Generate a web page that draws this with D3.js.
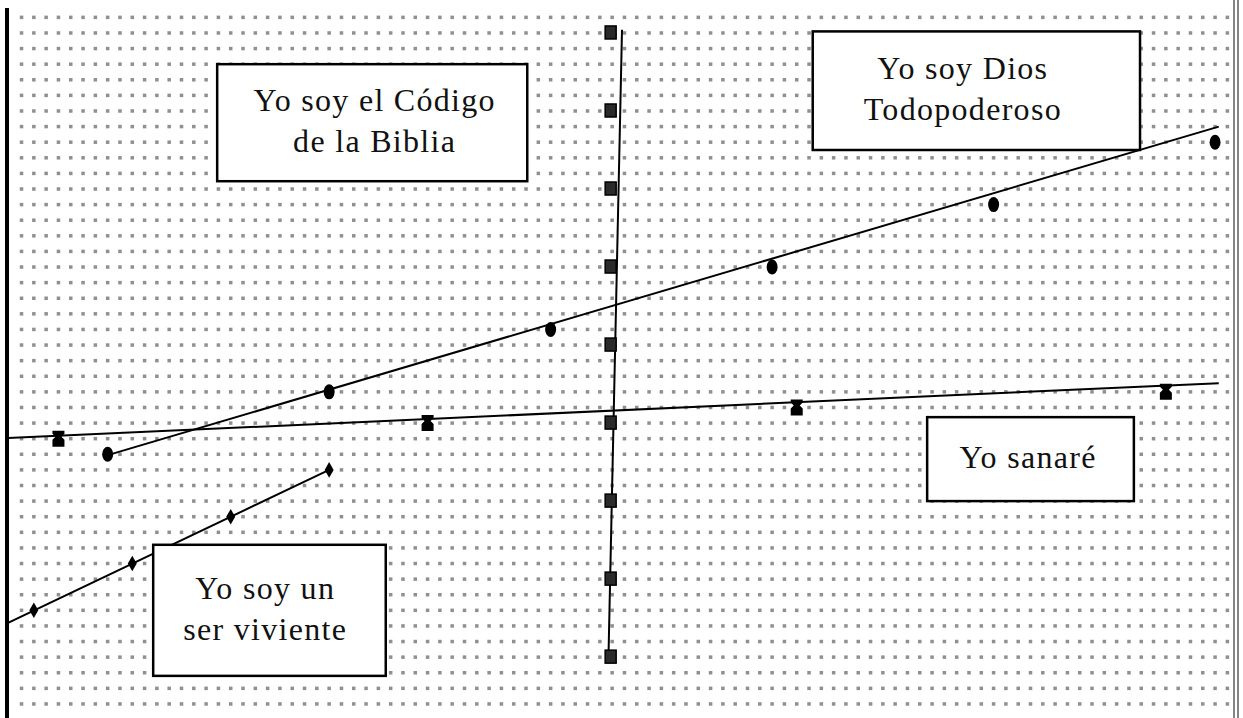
<!DOCTYPE html>
<html>
<head>
<meta charset="utf-8">
<script src="https://cdn.jsdelivr.net/npm/d3@7"></script>
<style>
body{margin:0;background:#fff;}
svg{display:block;}
.box rect{fill:#fff;stroke:#000;stroke-width:2.5;}
.box text{font-family:"Liberation Serif",serif;font-size:32px;fill:#111;letter-spacing:1.3px;text-anchor:middle;}
.trend{fill:none;stroke:#000;stroke-width:2;}
</style>
</head>
<body>
<div id="chart"></div>
<script>
// values in grid units (columns, rows) counted from the centre cross
var squareX = [0, 0, 0, 0, 0, 0, 0, 0, 0];
var squareY = [25, 20, 15, 10, 5, 0, -5, -10, -15];
var circleX = [-41, -23, -5, 13, 31, 49];
var circleY = [-2, 2, 6, 10, 14, 18];
var bowX = [-45, -15, 15, 45];
var bowY = [-1, 0, 1, 2];
var diamondX = [-47, -39, -31, -23];
var diamondY = [-12, -9, -6, -3];

// hand drawn line of each series: start and end
var squareLine = [[0.8, 25.2], [-0.3, -15]];
var circleLine = [[-41.2, -2.1], [49.3, 19]];
var bowLine = [[-49.1, -0.96], [49.3, 2.56]];
var diamondLine = [[-49.1, -12.8], [-23, -3]];

// box labels
var labels = [
    ["Yo soy el Código", "de la Biblia"],
    ["Yo soy Dios", "Todopoderoso"],
    ["Yo sanaré"],
    ["Yo soy un", "ser viviente"]
];

var w = 1243, h = 718;
var padL = 8, padR = 1236, padT = 8;

var xScale = d3.scaleLinear().domain([-49.1, 50.7]).range([padL, padR]);
var yScale = d3.scaleLinear().domain([-18.9, 26.6]).range([h, padT]);

var svg = d3.select("#chart").append("svg")
    .attr("width", w).attr("height", h);

//dotted background grid
var gx = d3.range(-48, 51), gy = d3.range(-18, 27);
var grid = svg.append("g").attr("fill", "#555");
gy.forEach(function(r){
    grid.selectAll(null)
        .data(gx)
        .enter()
        .append("rect")
        .attr("x", function(c){ return xScale(c) - 1.75; })
        .attr("y", yScale(r) - 1.75)
        .attr("width", 3.5)
        .attr("height", 3.5)
        .attr("opacity", 0.65);
});

//frame
svg.append("rect").attr("x", 5).attr("y", padT).attr("width", 4).attr("height", h - padT).attr("fill", "#000");
svg.append("line").attr("x1", 1234).attr("x2", 1234).attr("y1", 0).attr("y2", h).attr("stroke", "#333").attr("stroke-width", 1.2);
svg.append("line").attr("x1", 1238).attr("x2", 1238).attr("y1", 0).attr("y2", h).attr("stroke", "#333").attr("stroke-width", 1.2);

var line = d3.line()
    .x(function(d){ return xScale(d[0]); })
    .y(function(d){ return yScale(d[1]); });

[squareLine, circleLine, bowLine, diamondLine].forEach(function(l){
    svg.append("path").attr("class", "trend").attr("d", line(l));
});

function zip(xs, ys){ return xs.map(function(x, i){ return [x, ys[i]]; }); }

//markers
svg.selectAll(".sq")
    .data(zip(squareX, squareY))
    .enter()
    .append("rect")
    .attr("class", "sq")
    .attr("x", function(d){ return xScale(d[0]) - 7; })
    .attr("y", function(d){ return yScale(d[1]) - 7; })
    .attr("width", 11).attr("height", 13)
    .attr("fill", "#2a2a2a").attr("stroke", "#000").attr("stroke-width", 1.5);

svg.selectAll(".dot")
    .data(zip(circleX, circleY))
    .enter()
    .append("ellipse")
    .attr("class", "dot")
    .attr("cx", function(d){ return xScale(d[0]); })
    .attr("cy", function(d){ return yScale(d[1]); })
    .attr("rx", 5.5).attr("ry", 7.5)
    .attr("fill", "#000");

svg.selectAll(".bow")
    .data(zip(bowX, bowY))
    .enter()
    .append("path")
    .attr("class", "bow")
    .attr("transform", function(d){ return "translate(" + xScale(d[0]) + "," + yScale(d[1]) + ")"; })
    .attr("d", "M-6,-8L6,-8L6,-5L3,-2L6,1L6,8L-6,8L-6,1L-3,-2L-6,-5Z")
    .attr("fill", "#000");

svg.selectAll(".dia")
    .data(zip(diamondX, diamondY))
    .enter()
    .append("path")
    .attr("class", "dia")
    .attr("transform", function(d){ return "translate(" + xScale(d[0]) + "," + yScale(d[1]) + ")"; })
    .attr("d", d3.symbol().type(d3.symbolDiamond).size(70))
    .attr("fill", "#000");

//label boxes: [x0, x1, yTop, yBottom, text centre] in grid units
var boxes = [
    [-32.1, -6.9, 23.0, 15.5, -19.3],
    [16.3, 42.9, 25.1, 17.5, 28.5],
    [25.6, 42.4, 0.38, -5.0, 33.8],
    [-37.3, -18.4, -7.8, -16.2, -28.2]
];
boxes.forEach(function(b, i){
    var g = svg.append("g").attr("class", "box");
    var x0 = xScale(b[0]), x1 = xScale(b[1]), y0 = yScale(b[2]), y1 = yScale(b[3]);
    g.append("rect").attr("x", x0).attr("y", y0).attr("width", x1 - x0).attr("height", y1 - y0);
    var lines = labels[i], gap = 41, cy = (y0 + y1) / 2;
    var first = cy - (lines.length - 1) * gap / 2 + 9;
    g.selectAll("text")
        .data(lines)
        .enter()
        .append("text")
        .attr("x", xScale(b[4]))
        .attr("y", function(d, j){ return first + j * gap; })
        .text(function(d){ return d; });
});
</script>
</body>
</html>
